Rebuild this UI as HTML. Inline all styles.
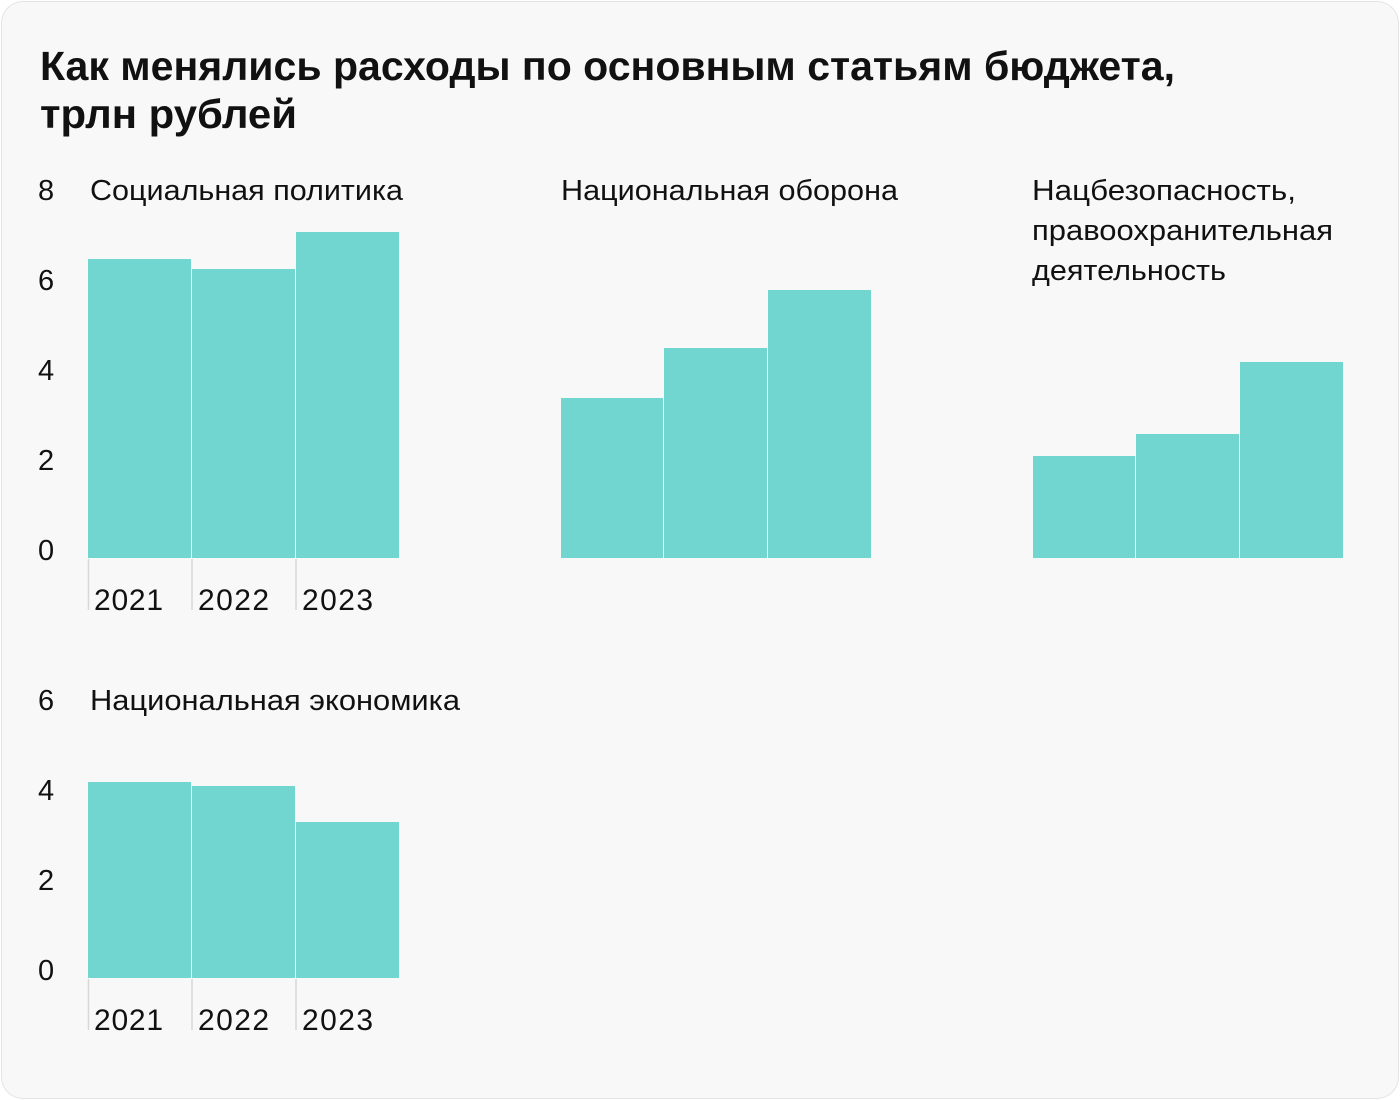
<!DOCTYPE html>
<html><head><meta charset="utf-8"><style>
body{margin:0;background:#fff;}
.card{position:absolute;left:1px;top:1px;width:1396px;height:1096px;background:#f8f8f8;border:1px solid #e4e4e4;border-radius:22px;}
svg{position:absolute;left:0;top:0;}
text{font-family:"Liberation Sans",sans-serif;fill:#111;}
</style></head><body>
<div class="card"></div>
<svg width="1400" height="1100">
<text x="40" y="80" style="font-size:41px;font-weight:bold" textLength="1135" lengthAdjust="spacingAndGlyphs">Как менялись расходы по основным статьям бюджета,</text>
<text x="40" y="128" style="font-size:41px;font-weight:bold" textLength="257" lengthAdjust="spacingAndGlyphs">трлн рублей</text>
<g style="font-size:29px">
<text x="38" y="200">8</text><text x="38" y="290">6</text><text x="38" y="380">4</text><text x="38" y="470">2</text><text x="38" y="560">0</text>
<text x="90" y="200" textLength="313" lengthAdjust="spacingAndGlyphs">Социальная политика</text>
<text x="561" y="200" textLength="337" lengthAdjust="spacingAndGlyphs">Национальная оборона</text>
<text x="1032" y="200" textLength="264" lengthAdjust="spacingAndGlyphs">Нацбезопасность,</text>
<text x="1032" y="240" textLength="301" lengthAdjust="spacingAndGlyphs">правоохранительная</text>
<text x="1032" y="280" textLength="194" lengthAdjust="spacingAndGlyphs">деятельность</text>
<text x="38" y="710">6</text><text x="38" y="800">4</text><text x="38" y="890">2</text><text x="38" y="980">0</text>
<text x="90" y="710" textLength="370" lengthAdjust="spacingAndGlyphs">Национальная экономика</text>
</g>
<g style="font-size:30px">
<text x="94" y="610" textLength="69">2021</text><text x="198" y="610" textLength="71">2022</text><text x="302" y="610" textLength="71">2023</text>
<text x="94" y="1030" textLength="69">2021</text><text x="198" y="1030" textLength="71">2022</text><text x="302" y="1030" textLength="71">2023</text>
</g>
<g fill="#72d6d0">
<rect x="88" y="259" width="103" height="299"/><rect x="192" y="269" width="103" height="289"/><rect x="296" y="232" width="103" height="326"/>
<rect x="561" y="398" width="102" height="160"/><rect x="664" y="348" width="103" height="210"/><rect x="768" y="290" width="103" height="268"/>
<rect x="1033" y="456" width="102" height="102"/><rect x="1136" y="434" width="103" height="124"/><rect x="1240" y="362" width="103" height="196"/>
<rect x="88" y="782" width="103" height="196"/><rect x="192" y="786" width="103" height="192"/><rect x="296" y="822" width="103" height="156"/>
</g>
<g stroke="#d8d8d8" stroke-width="1.5">
<line x1="88.5" y1="559" x2="88.5" y2="610"/><line x1="192" y1="559" x2="192" y2="610"/><line x1="296" y1="559" x2="296" y2="610"/>
<line x1="88.5" y1="979" x2="88.5" y2="1030"/><line x1="192" y1="979" x2="192" y2="1030"/><line x1="296" y1="979" x2="296" y2="1030"/>
</g>
</svg>
</body></html>
